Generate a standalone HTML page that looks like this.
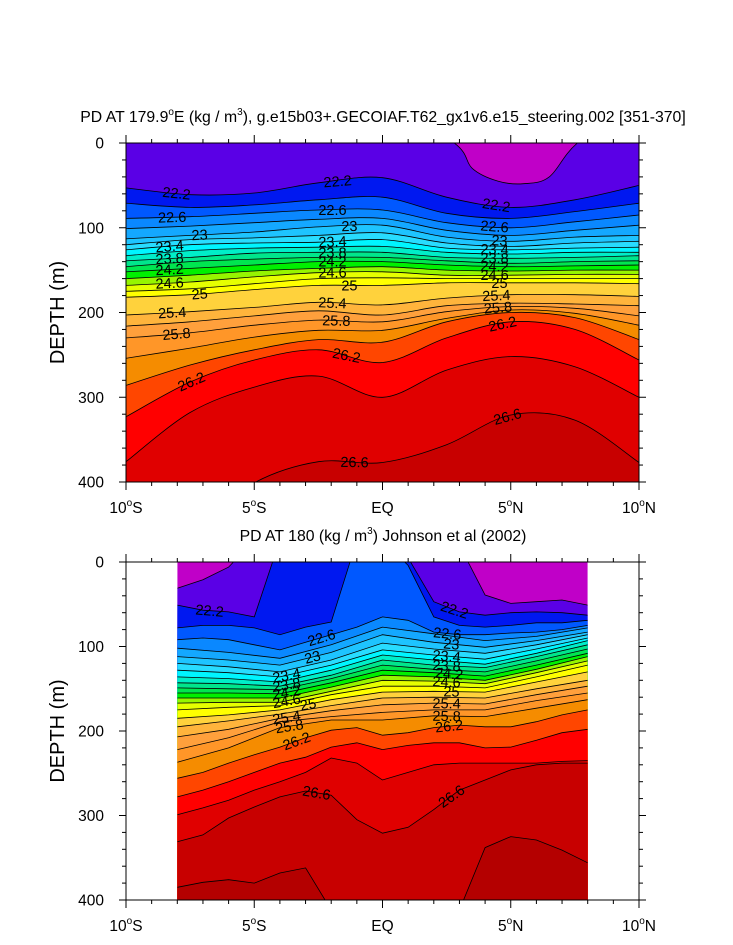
<!DOCTYPE html>
<html><head><meta charset="utf-8"><style>
html,body{margin:0;padding:0;background:#fff;}
svg{display:block;font-family:"Liberation Sans",sans-serif;}
</style></head><body>
<svg id="chart" width="733" height="945" viewBox="0 0 733 945" xmlns="http://www.w3.org/2000/svg"></svg>
<script>
// ---------- data ----------
const bandColors = ["#c000c8","#5a00e6","#0018f0","#0058ff","#0a88ff","#14a8ff","#1ec4ff","#28dcff","#00f5ff","#00eec8","#00e68c","#00e650","#00f000","#96f500","#e6ff00","#ffff00","#ffd23c","#ffb43c","#ffa03c","#ff9628","#f58c00","#ff4600","#ff0000","#e00000","#c80000","#b40000"];
const xTickLats = [-10,-5,0,5,10];
const xTickLabels = ["10°S","5°S","EQ","5°N","10°N"];
const yTickDepths = [0,100,200,300,400];

// top panel: model PD contours, depth (m) at each latitude
const topLats = [-10,-7.5,-5,-2.5,0,2.5,5,7.5,10];
const topFirstLats = [-10,0,2.8,3.5,4.5,5.5,6.5,7.6,10];
const topDepths = [
 [-50,-50,0,30,45,48,40,0,-50],
 [53,61,59,47,41,64,76,67,50],
 [71,76,73,67,64,83,89,81,71],
 [89,87,83,79,79,94,100,93,85],
 [101,98,94,90,89,103,109,103,97],
 [113,109,105,99,97,111,116,111,109],
 [120,114,112,109,106,118,122,118,116],
 [126,120,118,117,114,124,126,124,123],
 [133,127,124,123,122,129,131,129,129],
 [139,135,130,129,129,135,136,135,133],
 [146,140,137,135,135,139,142,140,139],
 [152,148,144,140,140,144,146,145,144],
 [160,156,151,148,146,150,151,150,150],
 [168,164,158,153,152,156,156,155,155],
 [175,172,166,160,159,160,160,160,160],
 [182,179,173,168,168,165,165,165,166],
 [203,199,194,188,191,183,179,179,181],
 [216,211,204,198,203,192,189,190,192],
 [230,224,215,209,211,199,193,195,204],
 [254,242,229,221,221,207,197,201,215],
 [286,262,244,232,235,211,200,206,232],
 [323,282,256,244,259,230,211,220,256],
 [376,318,288,275,300,268,252,264,300],
 [492,457,401,376,377,356,321,327,377]
];
const topLabelLine = [1,1,1,3,3,3,5,5,5,7,7,7,9,9,9,11,11,11,13,13,13,15,15,15,16,16,16,18,18,18,21,21,21,23,23];
const topLabelLat  = [-8.03,-1.75,4.44,-8.2,-1.95,4.37,-7.13,-1.29,4.56,-8.3,-1.95,4.37,-8.3,-1.95,4.37,-8.3,-1.95,4.37,-8.3,-1.95,4.37,-7.13,-1.29,4.56,-8.2,-1.95,4.44,-8.03,-1.8,4.5,-7.45,-1.4,4.68,-1.09,4.87];
const topLabelText = ["22.2","22.2","22.2","22.6","22.6","22.6","23","23","23","23.4","23.4","23.4","23.8","23.8","23.8","24.2","24.2","24.2","24.6","24.6","24.6","25","25","25","25.4","25.4","25.4","25.8","25.8","25.8","26.2","26.2","26.2","26.6","26.6"];

// bottom panel: observed PD contours (Johnson et al 2002)
const botFineLats = [-8,-7,-6,-5,-4,-3,-2,-1,0,1,2,3,4,5,6,7,8];
const botCoarseLats = [-8,-6,-4,-2,0,2,4,6,8];
const botLatSet = ["F","F","F","F","C","C","C","C","C","C","C","C","C","C","C","C","C","C","C","C","F","F","F","F","F"];
const botDepths = [
 [31,21,6,-26,-26,-26,-26,-26,-26,-26,-26,-20,39,49,47,45,51],
 [51,57,59,65,-26,-26,-26,-26,-26,-5,47,59,63,60,59,60,63],
 [78,75,75,78,86,77,71,-26,-26,4,65,75,77,75,72,72,69],
 [92,90,92,98,104,95,86,77,65,69,83,86,86,84,83,80,75],
 [102,107,114,98,77,85,93,88,78],
 [112,116,122,107,86,95,101,93,83],
 [120,124,130,116,96,103,108,98,86],
 [128,131,136,122,104,110,115,103,90],
 [136,138,142,128,110,116,121,108,93],
 [143,144,147,134,116,122,125,112,98],
 [149,150,151,138,122,127,130,117,103],
 [155,155,156,143,128,131,135,122,108],
 [161,161,161,148,134,136,140,127,112],
 [167,166,166,153,140,141,144,131,117],
 [175,172,170,157,147,147,149,136,122],
 [185,181,175,163,154,153,154,142,130],
 [195,188,180,170,161,160,161,150,140],
 [207,198,185,176,169,167,168,157,147],
 [222,208,189,183,178,175,175,164,155],
 [237,220,196,187,187,182,183,173,163],
 [256,249,238,228,219,208,199,196,205,202,196,193,195,195,189,181,175],
 [278,270,260,249,238,231,219,214,222,217,214,214,220,219,211,202,198],
 [299,291,282,270,260,249,232,238,258,249,240,238,238,238,238,236,235],
 [331,323,303,290,278,271,276,305,321,314,293,270,258,246,240,238,238],
 [385,379,376,380,368,362,412,424,424,424,424,412,338,325,329,341,356]
];
const botLabelLine = [1,1,3,3,5,5,7,7,9,9,11,11,13,13,15,15,17,17,19,19,20,20,23,23];
const botLabelLat  = [-6.74,2.81,-2.38,2.53,-2.73,2.69,-3.74,2.5,-3.74,2.5,-3.74,2.6,-3.74,2.5,-2.9,2.69,-3.74,2.5,-3.63,2.5,-3.35,2.6,-2.57,2.69];
const botLabelText = ["22.2","22.2","22.6","22.6","23","23","23.4","23.4","23.8","23.8","24.2","24.2","24.6","24.6","25","25","25.4","25.4","25.8","25.8","26.2","26.2","26.6","26.6"];

// ---------- drawing ----------
const NS="http://www.w3.org/2000/svg";
const svg=document.getElementById('chart');
function mk(tag,attrs,parent){const e=document.createElementNS(NS,tag);for(const k in attrs)e.setAttribute(k,attrs[k]);(parent||svg).appendChild(e);return e;}
const X0=126,X1=639;
function xs(lat){return X0+(lat+10)*(X1-X0)/20;}
function mkY(top,bot){return d=>top+d*(bot-top)/400;}
const panels=[{top:143,bot:482,y:mkY(143,482)},{top:562,bot:900,y:mkY(562,900)}];

function smoothPath(pts){
  let s="M"+pts[0][0].toFixed(1)+","+pts[0][1].toFixed(1);
  for(let i=0;i<pts.length-1;i++){
    const p0=pts[Math.max(0,i-1)],p1=pts[i],p2=pts[i+1],p3=pts[Math.min(pts.length-1,i+2)];
    const c1=[p1[0]+(p2[0]-p0[0])/6,p1[1]+(p2[1]-p0[1])/6];
    const c2=[p2[0]-(p3[0]-p1[0])/6,p2[1]-(p3[1]-p1[1])/6];
    s+="C"+c1[0].toFixed(1)+","+c1[1].toFixed(1)+" "+c2[0].toFixed(1)+","+c2[1].toFixed(1)+" "+p2[0].toFixed(1)+","+p2[1].toFixed(1);
  }
  return s;
}
function linePath(pts){return "M"+pts.map(p=>p[0].toFixed(1)+","+p[1].toFixed(1)).join("L");}
function interp(lats,vals,lat){
  if(lat<=lats[0])return vals[0];
  for(let i=0;i<lats.length-1;i++){if(lat<=lats[i+1]){const t=(lat-lats[i])/(lats[i+1]-lats[i]);return vals[i]+t*(vals[i+1]-vals[i]);}}
  return vals[vals.length-1];
}

function drawPanel(pi,linesLats,depths,smooth,latMin,latMax,labLine,labLat,labText,name){
  const P=panels[pi];
  const g=mk('g',{});
  
  
  const cp=mk('clipPath',{id:'clip'+pi},svg);
  mk('rect',{x:xs(latMin),y:P.top,width:xs(latMax)-xs(latMin),height:P.bot-P.top},cp);
  const fg=mk('g',{'clip-path':'url(#clip'+pi+')'},g);
  const bg=mk('rect',{x:xs(latMin),y:P.top,width:xs(latMax)-xs(latMin),height:P.bot-P.top,fill:bandColors[0]},fg);
  
  
  const paths=[];
  depths.forEach((row,i)=>{
    const lats=linesLats(i);
    const pts=row.map((d,j)=>[xs(lats[j]),P.y(d)]);
    const dstr=smooth?smoothPath(pts):linePath(pts);
    paths.push(dstr);
    const fill=mk('path',{d:dstr+"L"+(xs(lats[lats.length-1])+2)+","+(P.bot+60)+"L"+(xs(lats[0])-2)+","+(P.bot+60)+"Z",fill:bandColors[i+1]},fg);
    
    
  });
  paths.forEach((dstr,i)=>{
    const l=mk('path',{d:dstr,fill:'none',stroke:'#000','stroke-width':0.8},fg);
    
    
  });
  labLine.forEach((li,k)=>{
    const lats=linesLats(li),row=depths[li];
    const lat=labLat[k];
    const yy=P.y(interp(lats,row,lat));
    const ya=P.y(interp(lats,row,lat-0.4)),yb=P.y(interp(lats,row,lat+0.4));
    let ang=Math.atan2(yb-ya,xs(lat+0.4)-xs(lat-0.4))*180/Math.PI;
    ang=Math.max(-35,Math.min(35,ang));
    const x=xs(lat);
    const t=mk('text',{x:x,y:yy+5,'font-size':14.5,'text-anchor':'middle',fill:'#000',transform:'rotate('+ang.toFixed(1)+' '+x.toFixed(1)+' '+yy.toFixed(1)+')'},fg);
    t.textContent=labText[k];
    
    
  });
  const fr=mk('rect',{x:X0,y:P.top,width:X1-X0,height:P.bot-P.top,fill:'none',stroke:'#000','stroke-width':1},g);
  
  
  const tg=mk('g',{stroke:'#000','stroke-width':1},g);
  
  
  for(let lat=-10;lat<=10;lat++){
    const maj=(lat%5===0),L=maj?8:4,x=xs(lat);
    mk('line',{x1:x,y1:P.bot,x2:x,y2:P.bot+L},tg);
    mk('line',{x1:x,y1:P.top,x2:x,y2:P.top-L},tg);
  }
  for(let d=0;d<=400;d+=20){
    const maj=(d%100===0),L=maj?7:4,y=P.y(d);
    mk('line',{x1:X0,y1:y,x2:X0-L,y2:y},tg);
    mk('line',{x1:X1,y1:y,x2:X1+L,y2:y},tg);
  }
  yTickDepths.forEach(d=>{
    const t=mk('text',{x:104,y:P.y(d)+5.5,'font-size':15.5,'text-anchor':'end'},g);
    t.textContent=String(d);
    
    
  });
  xTickLats.forEach((lat,k)=>{
    const t=mk('text',{x:xs(lat),y:P.bot+31,'font-size':15.5,'text-anchor':'middle'},g);
    const lab=xTickLabels[k];
    if(lab.indexOf('°')>=0){
      const parts=lab.split('°');
      const a=mk('tspan',{},t);a.textContent=parts[0];
      const b=mk('tspan',{dy:-7,'font-size':10},t);b.textContent='o';
      const c=mk('tspan',{dy:7},t);c.textContent=parts[1];
    } else t.textContent=lab;
    
    
  });
  const yl=mk('text',{x:0,y:0,'font-size':20,'text-anchor':'middle',transform:'translate(64,'+((P.top+P.bot)/2)+') rotate(-90)'},g);
  yl.textContent='DEPTH (m)';
  
  
}

drawPanel(0,i=>i===0?topFirstLats:topLats,topDepths,true,-10,10,topLabelLine,topLabelLat,topLabelText,'top');
drawPanel(1,i=>botLatSet[i]==="F"?botFineLats:botCoarseLats,botDepths,false,-8,8,botLabelLine,botLabelLat,botLabelText,'bottom');

const t1=mk('text',{x:383,y:122,'font-size':15.8,'text-anchor':'middle'});


[["PD AT 179.9",0,15.8],["o",-7,10],["E (kg / m",7,15.8],["3",-7,10],["), g.e15b03+.GECOIAF.T62_gx1v6.e15_steering.002 [351-370]",7,15.8]].forEach(p=>{const s=mk('tspan',{dy:p[1],'font-size':p[2]},t1);s.textContent=p[0];});
const t2=mk('text',{x:383,y:541,'font-size':15.8,'text-anchor':'middle'});


[["PD AT 180 (kg / m",0,15.8],["3",-7,10],[") Johnson et al (2002)",7,15.8]].forEach(p=>{const s=mk('tspan',{dy:p[1],'font-size':p[2]},t2);s.textContent=p[0];});
</script>
</body></html>
